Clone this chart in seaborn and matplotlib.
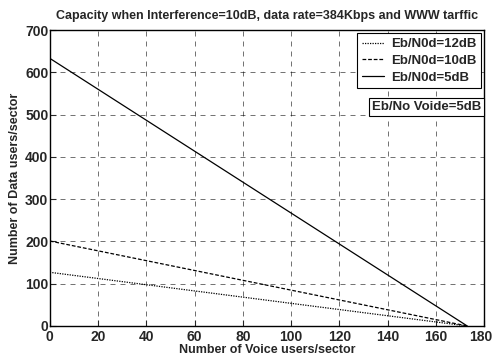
import matplotlib
matplotlib.use("Agg")
import matplotlib.pyplot as plt
import matplotlib.transforms as mtransforms
import seaborn as sns
import pandas as pd

voice_users = [0, 173]
eb12_data = [127, 0]
eb10_data = [201, 0]
eb5_data = [633, 0]
series_names = ["Eb/N0d=12dB", "Eb/N0d=10dB", "Eb/N0d=5dB"]
x_ticks = [0, 20, 40, 60, 80, 100, 120, 140, 160, 180]
y_ticks = [0, 100, 200, 300, 400, 500, 600, 700]

rows = []
for name, vals in zip(series_names, [eb12_data, eb10_data, eb5_data]):
    for x, y in zip(voice_users, vals):
        rows.append({"voice": x, "data": y, "series": name})
df = pd.DataFrame(rows)

sns.set_style("ticks")
plt.rcParams['font.family'] = ['Liberation Sans', 'DejaVu Sans']
plt.rcParams['font.weight'] = 'bold'

fig = plt.figure(figsize=(4.93, 3.58), dpi=100)
ax = fig.add_axes([0.101, 0.0894, 0.881, 0.8268])

dashes = {"Eb/N0d=12dB": (1, 1), "Eb/N0d=10dB": (3, 1.5), "Eb/N0d=5dB": ""}
sns.lineplot(data=df, x="voice", y="data", hue="series", style="series",
             palette=["black"] * 3, dashes=dashes, linewidth=0.9, ax=ax,
             hue_order=series_names, style_order=series_names)

ax.set_xlim(0, 180)
ax.set_ylim(0, 700)
ax.set_xticks(x_ticks)
ax.set_yticks(y_ticks)
ax.tick_params(direction="in", length=4, width=0.8, labelsize=10)
ax.tick_params(axis="x", pad=3)
ax.tick_params(axis="y", pad=1)
for lab in ax.get_xticklabels() + ax.get_yticklabels():
    lab.set_fontweight("bold")
# keep the last x tick label inside the canvas
last = ax.get_xticklabels()[-1]
last.set_transform(last.get_transform() + mtransforms.ScaledTranslation(-3 / 100, 0, fig.dpi_scale_trans))
ax.grid(True, color="black", linestyle=(0, (6, 6)), linewidth=0.6, alpha=0.65)
for s in ax.spines.values():
    s.set_visible(True)
    s.set_linewidth(1.0)
    s.set_color("black")

ax.set_title("Capacity when Interference=10dB, data rate=384Kbps and WWW tarffic",
             fontsize=9, fontweight="bold", pad=8)
ax.set_xlabel("Number of Voice users/sector", fontsize=9, fontweight="bold", labelpad=0)
ax.set_ylabel("Number of Data users/sector", fontsize=9, fontweight="bold", labelpad=3)

leg = ax.legend(loc="upper right", fontsize=9.5, frameon=True, fancybox=False,
                edgecolor="black", framealpha=1, handlelength=1.7,
                borderpad=0.35, labelspacing=0.35, handletextpad=0.5,
                borderaxespad=0.25)
leg.get_frame().set_linewidth(0.8)
for t in leg.get_texts():
    t.set_fontweight("bold")

ax.text(0.993, 0.74, "Eb/No Voide=5dB", transform=ax.transAxes, ha="right", va="center",
        fontsize=9.5, fontweight="bold",
        bbox=dict(boxstyle="square,pad=0.2", facecolor="white", edgecolor="black", linewidth=0.8))

fig.savefig("out.png", dpi=100)
